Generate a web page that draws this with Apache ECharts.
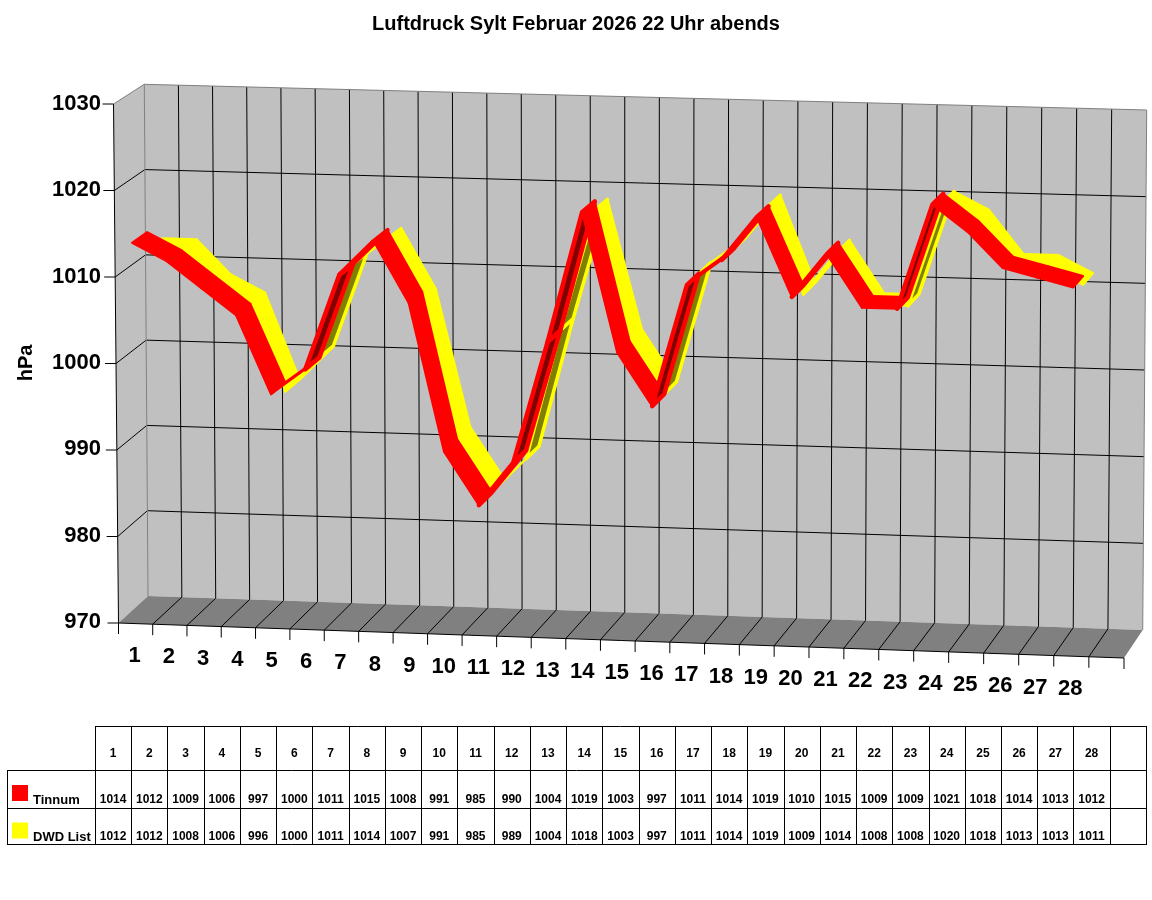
<!DOCTYPE html>
<html><head><meta charset="utf-8">
<style>html,body{margin:0;padding:0;background:#fff}#c{width:1152px;height:900px}</style>
<script src="https://cdn.jsdelivr.net/npm/echarts@6/dist/echarts.min.js"></script>
</head><body><div id="c"></div>
<script>
const titleText = 'Luftdruck Sylt Februar 2026 22 Uhr abends';
const days = [1,2,3,4,5,6,7,8,9,10,11,12,13,14,15,16,17,18,19,20,21,22,23,24,25,26,27,28];
const tinnum = [1014,1012,1009,1006,997,1000,1011,1015,1008,991,985,990,1004,1019,1003,997,1011,1014,1019,1010,1015,1009,1009,1021,1018,1014,1013,1012];
const dwdList = [1012,1012,1008,1006,996,1000,1011,1014,1007,991,985,989,1004,1018,1003,997,1011,1014,1019,1009,1014,1008,1008,1020,1018,1013,1013,1011];
const pressureTicks = [970,980,990,1000,1010,1020,1030];

const FONT = '"Liberation Sans", Arial, sans-serif';
const GRID = {left:116, top:104, width:1008, height:518};
// perspective box: corners of the front and back planes
const BOX = {
  fbl:[118.5,623], fbr:[1124,658], ftl:[113.5,104], ftr:[1127,131],
  bbl:[148,596], bbr:[1142.7,630], btl:[144.3,84.3], btr:[1146.7,110]
};
const nCat = days.length+1;
const mix = (a,b,t)=>[a[0]+(b[0]-a[0])*t, a[1]+(b[1]-a[1])*t];
// perspective foreshortening along the category direction
const warp = u=>{const i=u*nCat; return (34.2*i+.0165*i*i)/(34.2*nCat+.0165*nCat*nCat);};
function project(pt, d){
  const u=warp((pt[0]-GRID.left)/GRID.width), v=(GRID.top+GRID.height-pt[1])/GRID.height;
  const f=mix(mix(BOX.fbl,BOX.fbr,u),mix(BOX.ftl,BOX.ftr,u),v);
  const b=mix(mix(BOX.bbl,BOX.bbr,u),mix(BOX.btl,BOX.btr,u),v);
  return mix(f,b,d);
}
const seg=(a,b,col,w)=>({type:'line',shape:{x1:a[0],y1:a[1],x2:b[0],y2:b[1]},style:{stroke:col,lineWidth:w||1}});
const poly=(pts,fill)=>({type:'polygon',shape:{points:pts},style:{fill:fill,lineWidth:0}});
function area(p){let s=0;for(let i=0;i<p.length;i++){const q=p[(i+1)%p.length];s+=p[i][0]*q[1]-q[0]*p[i][1];}return s/2;}
function ribbon(values,d0,d1,light,dark,pen){
  return function(params,api){
    const i=api.value(0);
    if(i+1>=values.length) return;
    const a=api.coord([i,values[i]]), b=api.coord([i+1,values[i+1]]);
    const q=[project(a,d0),project(b,d0),project(b,d1),project(a,d1)];
    const under=area(q)>0;      // the underside of a steep rise is visible
    return {type:'polygon',shape:{points:q},style:{fill:under?dark:light,stroke:light,lineWidth:under?pen:2,lineJoin:'round'}};
  };
}
function renderBox(params,api){
  if(params.dataIndex>0) return;
  const kids=[];
  const B=BOX, GR='#808080', W='#C0C0C0', K='#000';
  kids.push(poly([B.fbl,B.ftl,B.btl,B.bbl],W));
  kids.push(poly([B.bbl,B.btl,B.btr,B.bbr],W));
  kids.push(poly([B.fbl,B.fbr,B.bbr,B.bbl],GR));
  const yMin=pressureTicks[0], yMax=pressureTicks[pressureTicks.length-1];
  pressureTicks.forEach(t=>{
    const p=api.coord([0,t]); p[0]=GRID.left;
    const q=[GRID.left+GRID.width,p[1]];
    const inner=t!==yMin&&t!==yMax;
    const f=project(p,0);
    kids.push(seg([f[0]-11,f[1]],f,K));
    if(inner){
      kids.push(seg(f,project(p,1),K));
      kids.push(seg(project(p,1),project(q,1),K));
    }
  });
  const top=api.coord([0,yMax])[1], bot=api.coord([0,yMin])[1];
  for(let i=0;i<=nCat;i++){
    const x=GRID.left+GRID.width*i/nCat;
    const edge=(i===0||i===nCat);
    kids.push(seg(project([x,bot],1),project([x,top],1),edge?GR:K));
    if(!edge) kids.push(seg(project([x,bot],0),project([x,bot],1),K));
    const f=project([x,bot],0);
    kids.push(seg(f,[f[0],f[1]+11],K));
  }
  kids.push(seg(project([GRID.left,top],1),project([GRID.left+GRID.width,top],1),GR));
  kids.push(seg(project([GRID.left,top],0),project([GRID.left,top],1),GR));
  kids.push(seg(B.ftl,B.fbl,K));
  kids.push(seg(B.fbl,B.fbr,K));
  return {type:'group',children:kids};
}
function renderDayLabel(params,api){
  const i=api.value(0);
  const p=api.coord([i,pressureTicks[0]]);
  const f=project(p,0);
  return {type:'text',style:{text:String(days[i]),x:f[0]-1,y:f[1]+32.5,font:'bold 22px '+FONT,fill:'#000',align:'center',verticalAlign:'middle'}};
}
// data table
const cols={x0:95,w:36.24,n:29}, rows=[726,770,808,844], leftEdge=7;
const tableEls=[];
const hl=(x1,x2,y)=>({type:'line',shape:{x1:x1,y1:y+.5,x2:x2,y2:y+.5},style:{stroke:'#000',lineWidth:1}});
const vl=(x,y1,y2)=>({type:'line',shape:{x1:x+.5,y1:y1,x2:x+.5,y2:y2},style:{stroke:'#000',lineWidth:1}});
const tx=(s,x,y)=>({type:'text',style:{text:String(s),x:x,y:y,font:'bold 12px '+FONT,fill:'#000',align:'center',verticalAlign:'middle'}});
const xEnd=cols.x0+cols.w*cols.n;
tableEls.push(hl(cols.x0,xEnd,rows[0]),hl(leftEdge,xEnd,rows[1]),hl(leftEdge,xEnd,rows[2]),hl(leftEdge,xEnd,rows[3]));
tableEls.push(vl(leftEdge,rows[1],rows[3]+1));
for(let i=0;i<=cols.n;i++) tableEls.push(vl(Math.round(cols.x0+cols.w*i),rows[0],rows[3]+1));
days.forEach((d,i)=>{
  const cx=cols.x0+cols.w*(i+.5);
  tableEls.push(tx(d,cx,754),tx(tinnum[i],cx,800),tx(dwdList[i],cx,837));
});

const catData=days.map(String).concat(['']);
const chart=echarts.init(document.getElementById('c'),null,{renderer:'canvas'});
chart.setOption({
  animation:false,
  backgroundColor:'#fff',
  title:{text:titleText,left:'center',top:14,padding:0,textStyle:{fontFamily:FONT,fontWeight:'bold',fontSize:20,color:'#000'}},
  grid:Object.assign({},GRID,{containLabel:false}),
  legend:{data:['Tinnum','DWD List'],orient:'vertical',left:12,top:785,padding:0,itemWidth:16,itemHeight:16,itemGap:16,icon:'rect',selectedMode:false,
    formatter:n=>'{t|'+n+'}',
    textStyle:{rich:{t:{fontFamily:FONT,fontWeight:'bold',fontSize:13,color:'#000',padding:[14,0,0,0]}}}},
  xAxis:{type:'category',data:catData,show:false},
  yAxis:{type:'value',min:970,max:1030,interval:10,name:'hPa',nameLocation:'middle',nameGap:80,nameRotate:90,
    nameTextStyle:{fontFamily:FONT,fontWeight:'bold',fontSize:20,color:'#000'},
    axisLine:{show:false},axisTick:{show:false},splitLine:{show:false},
    axisLabel:{margin:15,formatter:v=>String(v),fontFamily:FONT,fontWeight:'bold',fontSize:22,color:'#000'}},
  graphic:{elements:tableEls},
  series:[
    {type:'custom',name:'box',silent:true,z:1,renderItem:renderBox,data:[[0,970]],encode:{x:0,y:1}},
    {type:'custom',name:'DWD List',silent:true,z:2,itemStyle:{color:'#FFFF00'},renderItem:ribbon(dwdList,.5,1,'#FFFF00','#808000',3.5),data:dwdList.map((v,i)=>[i,v]),encode:{x:0,y:1}},
    {type:'custom',name:'Tinnum',silent:true,z:3,itemStyle:{color:'#FF0000'},renderItem:ribbon(tinnum,0,.5,'#FF0000','#800000',4.5),data:tinnum.map((v,i)=>[i,v]),encode:{x:0,y:1}},
    {type:'custom',name:'labels',silent:true,z:4,renderItem:renderDayLabel,data:days.map((d,i)=>[i,970]),encode:{x:0,y:1}}
  ]
});
</script></body></html>
